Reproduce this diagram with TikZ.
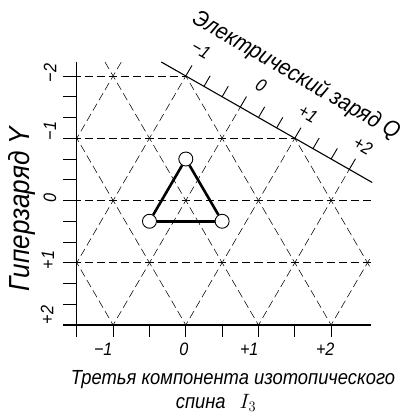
\documentclass[tikz,border=0pt]{standalone}
\usepackage{fontspec}
\setmainfont{Liberation Sans}[FakeStretch=0.9]
\newcommand\LC[2]{({185.8+72.67*(#1)},{200.5+62.25*(#2)})}
\begin{document}
\begin{tikzpicture}[x=1pt,y=-1pt,
  hdash/.style={line width=0.7pt, dash pattern=on 8.11pt off 4pt, dash phase=4.05pt},
  ddash/.style={line width=0.55pt, dash pattern=on 8.01pt off 4pt, dash phase=4pt},
  axisline/.style={line width=1.1pt},
  tickline/.style={line width=0.9pt},
  tri/.style={line width=2.6pt},
  qk/.style={circle, draw, fill=white, line width=0.9pt, minimum size=14pt, inner sep=0pt},
  num/.style={font=\fontsize{18}{18}\selectfont\itshape, inner sep=0pt},
  ttl/.style={font=\fontsize{20.4}{20.4}\selectfont\itshape, inner sep=0pt},
]
\useasboundingbox (0,0) rectangle (409,415);
% dashed lattice, clipped
\begin{scope}
  \clip \LC{-1.5}{-2.225} -- \LC{-0.3375}{-2.225} -- \LC{2.55}{-0.3} -- \LC{2.55}{2} -- \LC{-1.5}{2} -- cycle;
  \foreach \c in {-4,...,5} {
    \draw[ddash] \LC{\c-1.5}{-3} -- \LC{\c+1.5}{3};
    \draw[ddash] \LC{\c+1.5}{-3} -- \LC{\c-1.5}{3};
  }
  \foreach \yy in {-2,-1,0,1} {
    \draw[hdash] \LC{-1.5}{\yy} -- \LC{2.6}{\yy};
  }
\end{scope}
% axes
\draw[axisline] \LC{-1.5}{-2.225} -- \LC{-1.5}{2.19};
\draw[axisline] \LC{-1.69}{2} -- \LC{2.55}{2};
\foreach \k in {0,...,12} {
  \draw[tickline] \LC{-1.69}{-2+\k/3} -- \LC{-1.5}{-2+\k/3};
}
\foreach \k in {0,...,7} {
  \draw[tickline] \LC{-1.5+\k/2}{2} -- \LC{-1.5+\k/2}{2.19};
}
% Q axis
\draw[axisline] \LC{-0.3375}{-2.225} -- \LC{2.565}{-0.29};
\foreach \k in {0,...,9} {
  \pgfmathsetmacro\qq{(\k/3)}
  \draw[tickline] \LC{0.75*\qq}{-2+0.5*\qq} -- \LC{0.75*\qq+0.085}{-2+0.5*\qq-0.17};
}
% triplet
\node[qk] (top) at \LC{0}{-2/3} {};
\node[qk] (bl) at \LC{-0.5}{1/3} {};
\node[qk] (br) at \LC{0.5}{1/3} {};
\draw[tri] (top) -- (bl);
\draw[tri] (bl) -- (br);
\draw[tri] (br) -- (top);
% Y labels
\node[num, rotate=90] (ym2) at (50,73) {−2};
\node[num, rotate=90] (ym1) at (50,131) {−1};
\node[num, rotate=90] (y0) at (50,198) {0};
\node[num, rotate=90] (yp1) at (48,260) {+1};
\node[num, rotate=90] (yp2) at (47,315) {+2};
\node[ttl, font=\fontsize{29}{29}\selectfont\itshape, rotate=90] (ytitle) at (22,209) {Гиперзаряд Y};
% I3 labels
\node[num] (xm1) at (108,349) {\llap{−}1};
\node[num] (x0) at (184,349) {0};
\node[num] (xp1) at (254,349) {\llap{+}1};
\node[num] (xp2) at (330,349) {\llap{+}2};
\node[ttl] (xtitle1) at (233,380) {Третья компонента изотопического};
\node[ttl] (xtitle2) at (216,403) {спина\hspace{14pt}$I_3$};
% Q labels
\node[num, rotate=-30] (qm1) at (201,50) {−1};
\node[num, rotate=-30] (q0) at (261,85) {0};
\node[num, rotate=-30] (qp1) at (308,114) {+1};
\node[num, rotate=-30] (qp2) at (363,146) {+2};
\node[ttl, font=\fontsize{23}{23}\selectfont\itshape, rotate=-30] (qtitle) at (296,76) {Электрический заряд Q};
\end{tikzpicture}
\end{document}
